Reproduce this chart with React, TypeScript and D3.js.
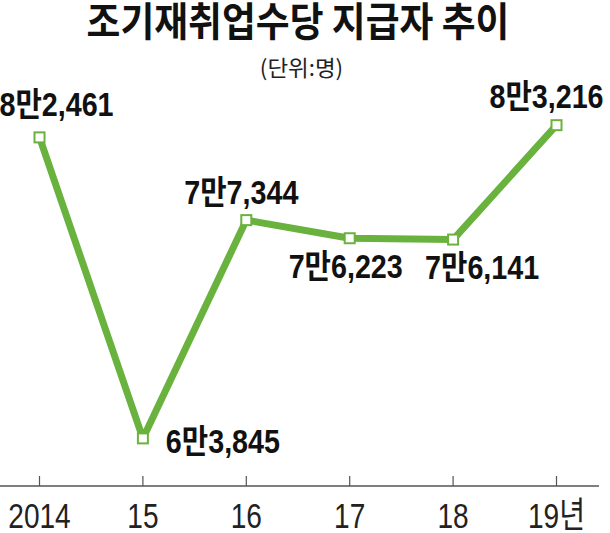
import * as d3 from "d3";

const YEARS = ["2014", "15", "16", "17", "18", "19년"];
const VALUES = [82461, 63845, 77344, 76223, 76141, 83216];
const VALUE_LABELS = ["8만2,461", "6만3,845", "7만7,344", "7만6,223", "7만6,141", "8만3,216"];

// label offsets from each point (dx = centre, dy = baseline)
const LABEL_OFFSETS: [number, number][] = [
  [17, -21],
  [80, 15],
  [-5, -16],
  [-4, 40],
  [29, 39],
  [-10, -17],
];

const W = 610;
const H = 533;
const GREEN = "#6ab23e";
const AXIS_Y = 486;

const x = d3.scalePoint<string>().domain(YEARS).range([39.5, 556.5]);
const y = d3.scaleLinear().domain([60900, 84000]).range([AXIS_Y, 112.5]);

const line = d3
  .line<number>()
  .x((_, i) => x(YEARS[i]) ?? 0)
  .y((d) => y(d));

const labelFont = "'Liberation Sans', 'Noto Sans CJK KR', sans-serif";

export default function App() {
  return (
    <svg
      width={W}
      height={H}
      viewBox={`0 0 ${W} ${H}`}
      style={{ position: "absolute", left: 0, top: 0, background: "#fff" }}
    >
      <text
        transform={`translate(298,36) scale(0.92,1)`}
        textAnchor="middle"
        fontFamily="'Noto Sans CJK KR', sans-serif"
        fontWeight={700}
        fontSize={40}
        fill="#111"
      >
        조기재취업수당 지급자 추이
      </text>
      <text
        transform={`translate(301.5,76) scale(1.02,1)`}
        textAnchor="middle"
        fontFamily="'Noto Sans CJK KR', sans-serif"
        fontWeight={400}
        fontSize={22}
        fill="#222"
      >
        (단위:명)
      </text>

      {/* axis */}
      <line x1={0} x2={599} y1={AXIS_Y} y2={AXIS_Y} stroke="#555" strokeWidth={1.3} />
      {YEARS.map((yr) => (
        <line
          key={yr}
          x1={x(yr)}
          x2={x(yr)}
          y1={AXIS_Y - 10}
          y2={AXIS_Y}
          stroke="#555"
          strokeWidth={1.2}
        />
      ))}
      {YEARS.map((yr) => (
        <text
          key={"t" + yr}
          transform={`translate(${x(yr)},528) scale(0.78,1)`}
          textAnchor="middle"
          fontFamily={labelFont}
          fontWeight={400}
          fontSize={36}
          fill="#222"
        >
          {yr}
        </text>
      ))}

      <path
        d={line(VALUES) ?? ""}
        fill="none"
        stroke={GREEN}
        strokeWidth={7}
        strokeLinejoin="round"
      />
      {VALUES.map((v, i) => (
        <rect
          key={"m" + i}
          x={(x(YEARS[i]) ?? 0) - 5}
          y={y(v) - 5}
          width={10}
          height={10}
          fill="#fff"
          stroke={GREEN}
          strokeWidth={2}
        />
      ))}
      {VALUES.map((v, i) => (
        <text
          key={"l" + i}
          transform={`translate(${(x(YEARS[i]) ?? 0) + LABEL_OFFSETS[i][0]},${
            y(v) + LABEL_OFFSETS[i][1]
          }) scale(0.87,1)`}
          textAnchor="middle"
          fontFamily={labelFont}
          fontWeight={700}
          fontSize={33}
          fill="#111"
        >
          {VALUE_LABELS[i]}
        </text>
      ))}
    </svg>
  );
}
